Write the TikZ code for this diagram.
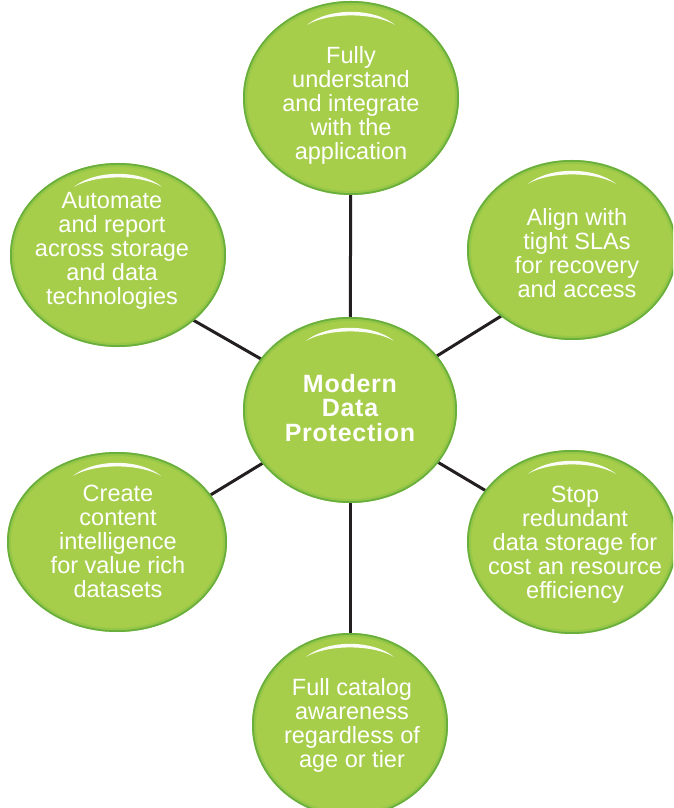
\documentclass[tikz,border=0pt]{standalone}
\usepackage{fontspec}
\setmainfont{Liberation Sans}
\usetikzlibrary{shapes.geometric,backgrounds,calc}
\definecolor{gA}{HTML}{A6CE4B}
\definecolor{gB}{HTML}{86C043}
\definecolor{gC}{HTML}{55A53A}
\definecolor{lineC}{HTML}{231F20}
\newcommand\glossmark[1]{%
  \fill[white,opacity=0.95] ([shift={(-44pt,-24pt)}]#1.north) .. controls ([shift={(-22pt,-6.7pt)}]#1.north) and ([shift={(22pt,-6.7pt)}]#1.north) .. ([shift={(44pt,-24pt)}]#1.north) .. controls ([shift={(22pt,-11.5pt)}]#1.north) and ([shift={(-22pt,-11.5pt)}]#1.north) .. cycle;}
\begin{document}
\begin{tikzpicture}[x=1pt,y=1pt,
  bubble/.style={ellipse, inner sep=0pt, draw=none, fill=gA,
    path picture={
      \path let \p1=(path picture bounding box.north east), \p2=(path picture bounding box.center) in
        [draw=gB, line width=14pt, opacity=0.25] (\p2) ellipse [x radius=\x1-\x2, y radius=\y1-\y2]
        [draw=gB, line width=8pt, opacity=0.45] (\p2) ellipse [x radius=\x1-\x2, y radius=\y1-\y2];
      \draw let \p1=(path picture bounding box.north east), \p2=(path picture bounding box.center) in
        [gC, line width=3.5pt, opacity=0.7] (\p2) ellipse [x radius=\x1-\x2, y radius=\y1-\y2];
    }},
  txt/.style={text=white, align=center, inner sep=0pt, font=\fontsize{23.5}{24}\selectfont},
  ctxt/.style={text=white, align=center, inner sep=0pt, font=\fontsize{25}{24.5}\selectfont\bfseries\addfontfeature{LetterSpace=3}},
  link/.style={draw=lineC, line width=3pt}]
\useasboundingbox (0,0) rectangle (673,808);
\clip (0,0) rectangle (673,808);
% bubbles
\node[bubble, minimum width=216pt, minimum height=194pt] (top) at (351,710) {};
\node[bubble, minimum width=214pt, minimum height=186pt] (c) at (350,398) {};
\node[bubble, minimum width=210pt, minimum height=180pt] (ru) at (572,558) {};
\node[bubble, minimum width=216pt, minimum height=184pt] (lu) at (118,553) {};
\node[bubble, minimum width=220pt, minimum height=180pt] (ll) at (117,266) {};
\node[bubble, minimum width=210pt, minimum height=184pt] (rl) at (572,266) {};
\node[bubble, minimum width=196pt, minimum height=184pt] (b) at (350,83) {};
% connectors
\begin{scope}[on background layer]
\draw[link] (c.center) -- (top.center);
\draw[link] (c.center) -- (b.center);
\draw[link] (c.center) -- ([yshift=-22pt]lu.center);
\draw[link] (c.center) -- ([yshift=-22pt]ru.center);
\draw[link] (c.center) -- ([yshift=-10pt]ll.center);
\draw[link] (c.center) -- (rl.center);
\end{scope}
% highlights
\glossmark{top}
\glossmark{c}
\glossmark{ru}
\glossmark{lu}
\glossmark{ll}
\glossmark{rl}
\glossmark{b}
% texts
\node[txt] (top-t) at (351,703) {Fully\\understand\\and integrate\\with the\\application};
\node[ctxt] (c-t) at (350,400) {Modern\\Data\\Protection};
\node[txt] (ru-t) at (577,555) {Align with\\tight SLAs\\for recovery\\and access};
\node[txt] (lu-t) at (112,557) {Automate\\and report\\across storage\\and data\\technologies};
\node[txt] (ll-t) at (118,267) {Create\\content\\intelligence\\for value rich\\datasets};
\node[txt] (rl-t) at (575,263) {Stop\\redundant\\data storage for\\cost an resource\\efficiency};
\node[txt] (b-t) at (352,83) {Full catalog\\awareness\\regardless of\\age or tier};
\end{tikzpicture}
\end{document}
